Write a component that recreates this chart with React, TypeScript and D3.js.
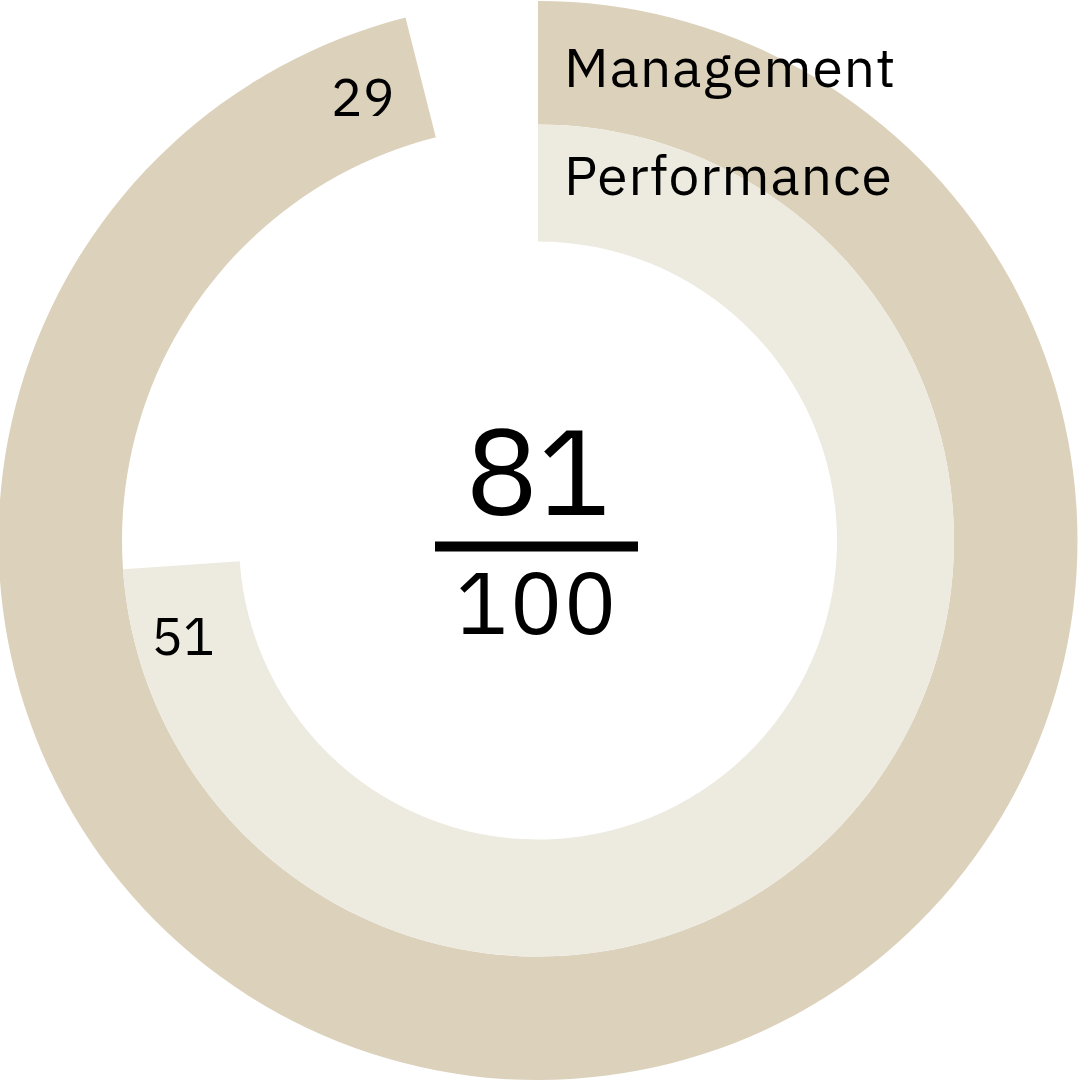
import React from "react";
import * as d3 from "d3";

const categories = ["Management", "Performance"];
const sweepPercent = [96.05, 73.9];
const labelValues = [29, 51];
const scoreValue = 81;
const scoreTotal = 100;
const colors = ["#DCD1BB", "#EDEADF"];

const W = 1080;
const H = 1080;
const cx = 538;
const cy = 540.5;
const ringEdges = [539.5, 416, 299];
const FONT = "'IBM Plex Sans', 'Noto Sans', 'Open Sans', sans-serif";

export default function App() {
  const angle = d3.scaleLinear().domain([0, 100]).range([0, 2 * Math.PI]);
  const arc = d3.arc<any>();
  const labelOffsets = [61, 69];
  const labelRadiusShift = [0, 10];
  const legendShift = [24, 12];

  return (
    <svg
      width={W}
      height={H}
      style={{ position: "absolute", left: 0, top: 0, background: "#fff" }}
    >
      <g transform={`translate(${cx},${cy})`}>
        {categories.map((c, i) => {
          const r1 = ringEdges[i];
          const r0 = ringEdges[i + 1];
          const d = arc({
            innerRadius: r0,
            outerRadius: r1,
            startAngle: 0,
            endAngle: angle(sweepPercent[i]),
          });
          return <path key={c} d={d || ""} fill={colors[i]} />;
        })}
        {categories.map((c, i) => {
          const rm = (ringEdges[i] + ringEdges[i + 1]) / 2;
          const a = angle(sweepPercent[i]) - labelOffsets[i] / rm;
          const rr = rm + labelRadiusShift[i];
          const x = rr * Math.sin(a);
          const y = -rr * Math.cos(a);
          return (
            <text
              key={c + "-v"}
              x={x}
              y={y}
              textAnchor="middle"
              dominantBaseline="central"
              fontFamily={FONT}
              fontSize={53}
              fill="#000"
            >
              {labelValues[i]}
            </text>
          );
        })}
        {categories.map((c, i) => {
          const rm = (ringEdges[i] + ringEdges[i + 1]) / 2;
          return (
            <text
              key={c + "-l"}
              x={26}
              y={-rm + legendShift[i]}
              textAnchor="start"
              fontFamily={FONT}
              fontSize={55}
              letterSpacing={1}
              fill="#000"
            >
              {c}
            </text>
          );
        })}
        <text
          x={0}
          y={-26}
          textAnchor="middle"
          fontFamily={FONT}
          fontSize={121}
          fill="#000"
        >
          {scoreValue}
        </text>
        <line x1={-103} x2={100} y1={6} y2={6} stroke="#000" strokeWidth={10} />
        <text
          x={-1}
          y={93}
          textAnchor="middle"
          fontFamily={FONT}
          fontSize={87}
          letterSpacing={2}
          fill="#000"
        >
          {scoreTotal}
        </text>
      </g>
    </svg>
  );
}
